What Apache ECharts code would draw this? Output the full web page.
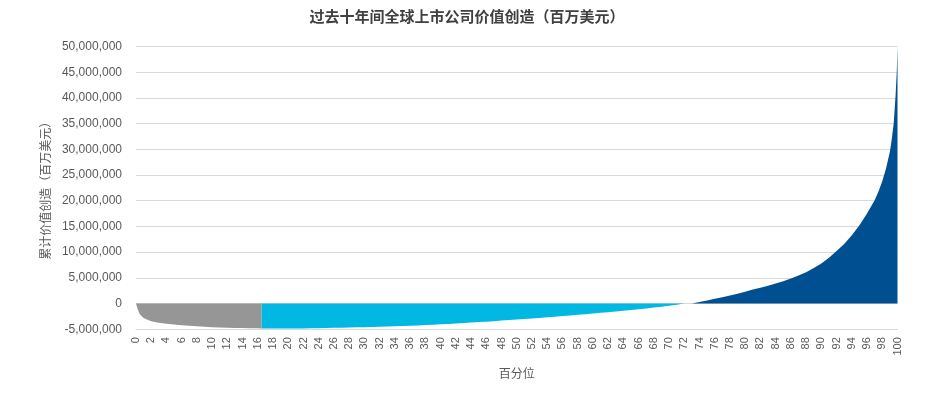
<!DOCTYPE html>
<html><head><meta charset="utf-8">
<script src="https://cdn.jsdelivr.net/npm/echarts@6/dist/echarts.min.js"></script>
<style>html,body{margin:0;padding:0;background:#fff}#c{width:934px;height:398px}</style>
</head><body><div id="c"></div>
<script>
// Percentile positions and cumulative value creation (USD millions)
const grayX  = [0, 0.25, 0.5, 1, 1.5, 2, 3, 4, 5, 6, 7, 8, 9, 10, 11, 12, 13, 14, 15, 16, 16.5];
const grayY  = [0, -1200000, -2100000, -2800000, -3150000, -3450000, -3750000, -3950000, -4100000, -4220000, -4330000, -4420000, -4520000, -4600000, -4670000, -4720000, -4760000, -4790000, -4810000, -4830000, -4840000];

const cyanX  = [16.5, 17, 18, 19, 20, 21, 22, 23, 24, 25, 26, 27, 28, 29, 30, 31, 32, 33, 34, 35, 36, 37, 38, 39, 40, 41, 42, 43, 44, 45, 46, 47, 48, 49, 50, 51, 52, 53, 54, 55, 56, 57, 58, 59, 60, 61, 62, 63, 64, 65, 66, 67, 68, 69, 70, 71, 72];
const cyanY  = [-4840000, -4850000, -4860000, -4870000, -4870000, -4860000, -4850000, -4830000, -4800000, -4770000, -4740000, -4710000, -4680000, -4640000, -4600000, -4560000, -4520000, -4480000, -4430000, -4380000, -4330000, -4270000, -4200000, -4130000, -4050000, -3970000, -3890000, -3800000, -3710000, -3620000, -3530000, -3430000, -3330000, -3230000, -3130000, -3020000, -2910000, -2800000, -2690000, -2570000, -2450000, -2330000, -2210000, -2080000, -1950000, -1820000, -1680000, -1540000, -1400000, -1250000, -1100000, -950000, -790000, -630000, -460000, -250000, 0];

const blueX  = [73, 74, 75, 76, 77, 78, 79, 80, 81, 82, 83, 84, 85, 86, 87, 88, 89, 90, 91, 92, 93, 94, 95, 96, 97, 97.5, 98, 98.5, 99, 99.25, 99.5, 99.75, 99.9, 100];
const blueY  = [0, 300000, 600000, 900000, 1200000, 1550000, 1900000, 2300000, 2700000, 3050000, 3450000, 3900000, 4350000, 4850000, 5450000, 6100000, 6900000, 7800000, 8900000, 10200000, 11600000, 13300000, 15200000, 17500000, 20100000, 21800000, 23800000, 26300000, 29500000, 32000000, 35000000, 40500000, 45000000, 50000000];

const titleText = '过去十年间全球上市公司价值创造（百万美元）';
const yName = '累计价值创造（百万美元）';
const xName = '百分位';

function pairs(xs, ys) { return xs.map((x, i) => [x, ys[i]]); }

const FONT = '"Liberation Sans", Arial, "Noto Sans CJK SC", sans-serif';
function areaSeries(name, xs, ys, color) {
  return {
    name, type: 'line', data: pairs(xs, ys), symbol: 'none', smooth: false,
    lineStyle: { width: 0, color }, areaStyle: { color, opacity: 1, origin: 0 },
    itemStyle: { color }, silent: true, animation: false
  };
}

const chart = echarts.init(document.getElementById('c'), null, { renderer: 'canvas' });
chart.setOption({
  animation: false,
  textStyle: { fontFamily: FONT },
  title: {
    text: titleText, left: 'center', top: 4,
    textStyle: { fontSize: 15, fontWeight: 'bold', color: '#404040', fontFamily: '"Noto Sans CJK SC", sans-serif' }
  },
  grid: { left: 136, right: 36.5, top: 46.5, bottom: 68.8, containLabel: false },
  xAxis: {
    type: 'value', min: 0, max: 100, interval: 2,
    name: xName, nameLocation: 'middle', nameGap: 38,
    nameTextStyle: { fontSize: 12, color: '#595959', fontFamily: '"Noto Sans CJK SC", sans-serif' },
    axisLine: { onZero: false, lineStyle: { color: '#d9d9d9' } },
    axisTick: { show: false },
    splitLine: { show: false },
    axisLabel: { rotate: 90, fontSize: 11, color: '#595959', margin: 8, fontFamily: FONT }
  },
  yAxis: {
    type: 'value', min: -5000000, max: 50000000, interval: 5000000,
    name: yName, nameLocation: 'middle', nameGap: 80, nameRotate: 90,
    nameTextStyle: { fontSize: 12, color: '#595959', fontFamily: '"Noto Sans CJK SC", sans-serif' },
    axisLine: { show: false }, axisTick: { show: false },
    splitLine: { lineStyle: { color: '#d9d9d9' } },
    axisLabel: {
      fontSize: 12, color: '#595959', margin: 14, fontFamily: FONT,
      formatter: v => v.toLocaleString('en-US')
    }
  },
  series: [
    areaSeries('gray', grayX, grayY, '#969696'),
    areaSeries('cyan', cyanX, cyanY, '#00B8E2'),
    areaSeries('blue', blueX, blueY, '#004F91')
  ]
});
</script></body></html>
